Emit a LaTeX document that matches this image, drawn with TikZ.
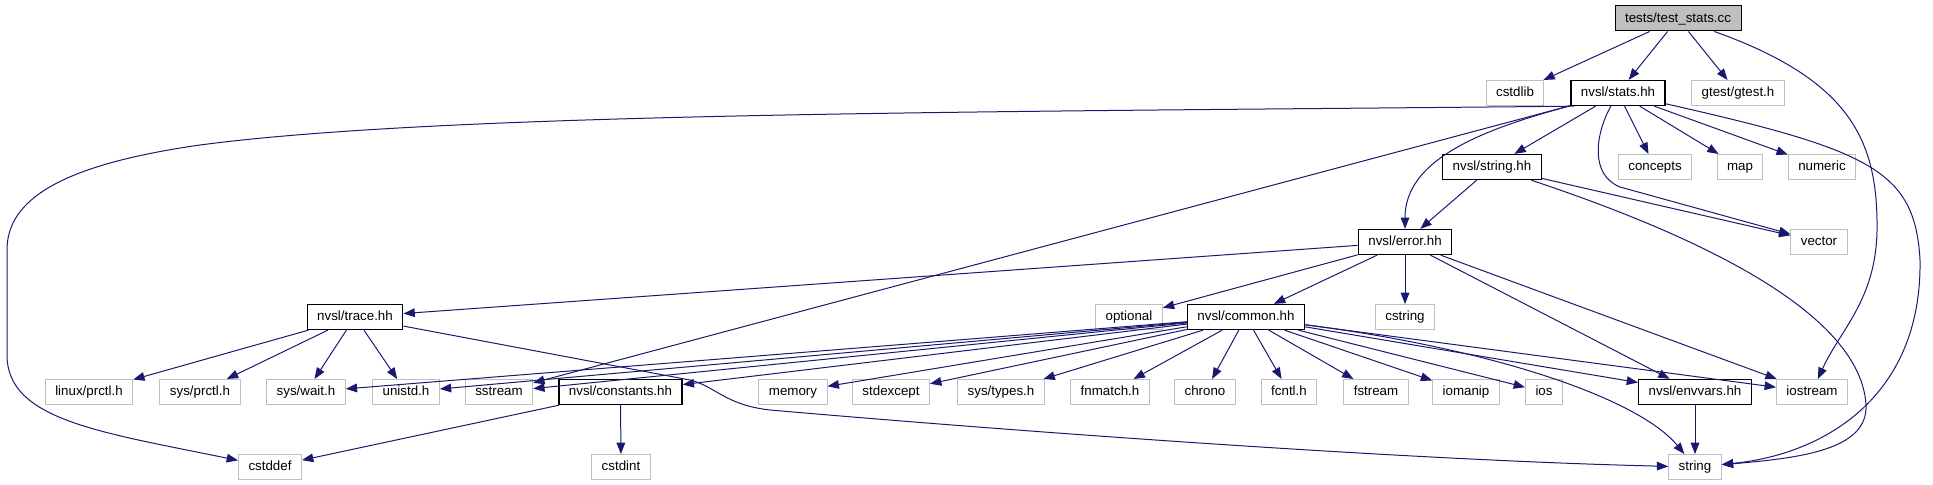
\documentclass[tikz,border=0pt]{standalone}
\usepackage{fontspec}
\setmainfont{Liberation Sans}
\usetikzlibrary{arrows.meta,positioning}
\definecolor{EdgeBlue}{RGB}{25,25,112}
\definecolor{BoxGray}{RGB}{191,191,191}

\begin{document}
\begin{tikzpicture}[x=0.75pt,y=-0.75pt,>={Triangle[length=8.5pt,width=6.5pt]},
  box/.style={rectangle,font=\fontsize{10}{12}\selectfont,inner xsep=7.5pt,inner ysep=0pt,
    minimum height=18.75pt,text height=7.4pt,text depth=2.1pt,line width=0.75pt,fill=white},
  root/.style={box,draw=black,fill=BoxGray},
  hdr/.style={box,draw=black,line width=1pt},
  sys/.style={box,draw=BoxGray},
  dep/.style={->,draw=EdgeBlue,line width=0.75pt}]
  \useasboundingbox (0,0) rectangle (1933,485);
  % top
  \node[root] (tests) at (1678,18.5) {tests/test\_stats.cc};
  \node[sys] (cstdlib) at (1515,93) {cstdlib};
  \node[hdr] (stats) at (1618,93) {nvsl/stats.hh};
  \node[sys] (gtest) at (1738,93) {gtest/gtest.h};
  \node[hdr] (strhh) at (1492,167) {nvsl/string.hh};
  \node[sys] (concepts) at (1655,167) {concepts};
  \node[sys] (map) at (1740,167) {map};
  \node[sys] (numeric) at (1822,167) {numeric};
  \node[hdr] (error) at (1405,242) {nvsl/error.hh};
  \node[sys] (vector) at (1819,242) {vector};
  % middle
  \node[hdr] (trace) at (355,317) {nvsl/trace.hh};
  \node[sys] (optional) at (1129,317) {optional};
  \node[hdr] (common) at (1246,317) {nvsl/common.hh};
  \node[sys] (cstring) at (1405,317) {cstring};
  % lower row
  \node[sys] (linuxprctl) at (89,392) {linux/prctl.h};
  \node[sys] (sysprctl) at (200,392) {sys/prctl.h};
  \node[sys] (syswait) at (306,392) {sys/wait.h};
  \node[sys] (unistd) at (406,392) {unistd.h};
  \node[sys] (sstream) at (499,392) {sstream};
  \node[hdr] (constants) at (620.5,392) {nvsl/constants.hh};
  \node[sys] (memory) at (793,392) {memory};
  \node[sys] (stdexcept) at (891,392) {stdexcept};
  \node[sys] (systypes) at (1001,392) {sys/types.h};
  \node[sys] (fnmatch) at (1110,392) {fnmatch.h};
  \node[sys] (chrono) at (1205,392) {chrono};
  \node[sys] (fcntl) at (1289,392) {fcntl.h};
  \node[sys] (fstream) at (1376,392) {fstream};
  \node[sys] (iomanip) at (1466,392) {iomanip};
  \node[sys] (ios) at (1544,392) {ios};
  \node[hdr] (envvars) at (1695,392) {nvsl/envvars.hh};
  \node[sys] (iostream) at (1812,392) {iostream};
  % bottom
  \node[sys] (cstddef) at (270,467) {cstddef};
  \node[sys] (cstdint) at (621,467) {cstdint};
  \node[sys] (string) at (1695,467) {string};

  % tests/test_stats.cc
  \draw[dep] (tests) -- (cstdlib);
  \draw[dep] (tests) -- (stats);
  \draw[dep] (tests) -- (gtest);
  \draw[dep] (tests) .. controls (1850,80) and (1878,140) .. (1877,230)
    .. controls (1876,300) and (1840,330) .. (iostream);
  % nvsl/stats.hh
  \draw[dep] ([xshift=3pt]stats.south west) .. controls (1000,112) and (450,112) .. (200,145)
    .. controls (60,165) and (7,200) .. (7,250) -- (7,355)
    .. controls (7,420) and (100,432) .. (cstddef);
  \draw[dep] (stats) -- (sstream);
  \draw[dep] (stats) .. controls (1480,130) and (1405,160) .. (error);
  \draw[dep] (stats) -- (strhh);
  \draw[dep] (stats) .. controls (1595,135) and (1590,175) .. (1620,187) -- (vector);
  \draw[dep] (stats) -- (concepts);
  \draw[dep] (stats) -- (map);
  \draw[dep] (stats) -- (numeric);
  \draw[dep] (stats) .. controls (1870,150) and (1915,170) .. (1920,260)
    .. controls (1922,400) and (1820,455) .. (string);
  % nvsl/string.hh
  \draw[dep] (strhh) -- (error);
  \draw[dep] (strhh) -- (vector);
  \draw[dep] (strhh) .. controls (1650,220) and (1860,300) .. (1866,405)
    .. controls (1868,450) and (1800,458) .. (string);
  % nvsl/error.hh
  \draw[dep] (error) -- (trace);
  \draw[dep] (error) -- (optional);
  \draw[dep] (error) -- (common);
  \draw[dep] (error) -- (cstring);
  \draw[dep] (error) -- (envvars);
  \draw[dep] (error) -- (iostream);
  % nvsl/trace.hh
  \draw[dep] (trace) -- (linuxprctl);
  \draw[dep] (trace) -- (sysprctl);
  \draw[dep] (trace) -- (syswait);
  \draw[dep] (trace) -- (unistd);
  \draw[dep] (trace) -- (690,380) .. controls (715,386) and (725,405) .. (770,410)
    .. controls (1000,430) and (1400,460) .. (string);
  % nvsl/common.hh
  \draw[dep] (common) -- (syswait);
  \draw[dep] (common) -- (unistd);
  \draw[dep] (common) -- (sstream);
  \draw[dep] (common) -- (constants);
  \draw[dep] (common) -- (memory);
  \draw[dep] (common) -- (stdexcept);
  \draw[dep] (common) -- (systypes);
  \draw[dep] (common) -- (fnmatch);
  \draw[dep] (common) -- (chrono);
  \draw[dep] (common) -- (fcntl);
  \draw[dep] (common) -- (fstream);
  \draw[dep] (common) -- (iomanip);
  \draw[dep] (common) -- (ios);
  \draw[dep] (common) -- (envvars);
  \draw[dep] (common) -- (iostream);
  \draw[dep] (common) .. controls (1500,350) and (1640,400) .. (string);
  % the rest
  \draw[dep] (constants) -- (cstddef);
  \draw[dep] (constants) -- (cstdint);
  \draw[dep] (envvars) -- (string);
\end{tikzpicture}
\end{document}
